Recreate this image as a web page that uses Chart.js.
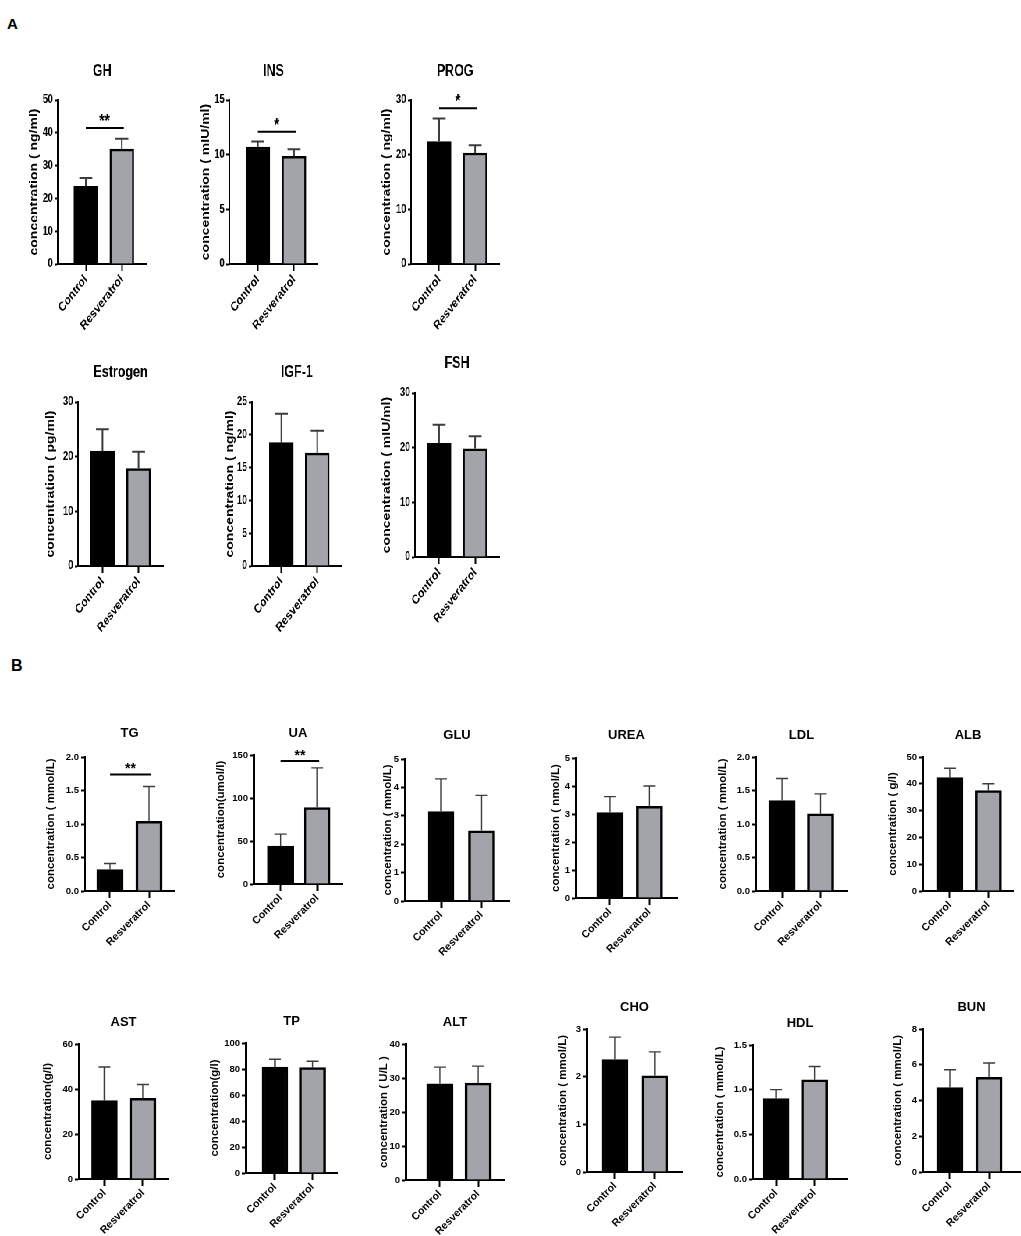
<!DOCTYPE html>
<html>
<head>
<meta charset="utf-8">
<script src="https://cdn.jsdelivr.net/npm/chart.js@4.4.1/dist/chart.umd.min.js"></script>
<style>
  html, body { margin: 0; padding: 0; background: #fff; overflow: hidden; }
  body { width: 1021px; height: 1236px; position: relative; font-family: "Liberation Sans", Arial, sans-serif; }
  .panel { position: absolute; font-weight: bold; color: #000; }
  #wrapA { position: absolute; left: 0; top: 0; width: 1400px; height: 640px; transform: scaleX(0.78); transform-origin: 0 0; }
  #wrapB { position: absolute; left: 0; top: 0; width: 1021px; height: 1236px; }
  canvas { position: absolute; }
</style>
</head>
<body>
<div class="panel" style="left:7px;top:16px;font-size:15px;line-height:15px">A</div>
<div class="panel" style="left:11px;top:658px;font-size:16px;line-height:16px">B</div>
<div id="wrapA"></div>
<div id="wrapB"></div>
<script>
const groups = ["Control", "Resveratrol"];
const titles = ["GH", "INS", "PROG", "Estrogen", "IGF-1", "FSH",
  "TG", "UA", "GLU", "UREA", "LDL", "ALB",
  "AST", "TP", "ALT", "CHO", "HDL", "BUN"];
const yTitles = ["concentration ( ng/ml)", "concentration ( mIU/ml)", "concentration ( ng/ml)",
  "concentration ( pg/ml)", "concentration ( ng/ml)", "concentration ( mIU/ml)",
  "concentration ( mmol/L)", "concentration(umol/l)", "concentration ( mmol/L)",
  "concentration ( nmol/L)", "concentration ( mmol/L)", "concentration ( g/l)",
  "concentration(g/l)", "concentration(g/l)", "concentration ( U/L )",
  "concentration ( mmol/L)", "concentration ( mmol/L)", "concentration ( mmol/L)"];
const controlMean = [23.7, 10.7, 22.4, 21.0, 18.8, 20.8, 0.32, 44, 3.15, 3.05, 1.35, 42.3, 34.8, 81.5, 28.3, 2.36, 0.90, 4.72];
const controlSD   = [2.5, 0.5, 4.2, 4.0, 4.4, 3.4, 0.09, 14, 1.15, 0.57, 0.33, 3.5, 15.0, 6.0, 4.9, 0.47, 0.10, 1.00];
const resMean     = [35.0, 9.85, 20.3, 17.8, 17.2, 19.8, 1.04, 89, 2.47, 3.27, 1.15, 37.5, 35.8, 81.0, 28.5, 2.02, 1.11, 5.30];
const resSD       = [3.2, 0.65, 1.4, 3.1, 3.4, 2.3, 0.52, 46, 1.25, 0.73, 0.30, 2.5, 6.2, 5.0, 5.0, 0.50, 0.15, 0.80];
const yMax  = [50, 15, 30, 30, 25, 30, 2, 150, 5, 5, 2, 50, 60, 100, 40, 3, 1.5, 8];
const yStep = [10, 5, 10, 10, 5, 10, 0.5, 50, 1, 1, 0.5, 10, 20, 20, 10, 1, 0.5, 2];
const sigMark  = ["**", "*", "*", "", "", "", "**", "**", "", "", "", "", "", "", "", "", "", ""];
const sigLevel = [41.5, 12.1, 28.5, 0, 0, 0, 1.74, 143, 0, 0, 0, 0, 0, 0, 0, 0, 0, 0];

// page px: axis x, axis end x, top y, zero y, x min, x max, y-title gap, title offset
const layout = [
  [58, 147, 100, 264, -0.78, 1.69, 23, 28],
  [229, 317, 100, 264, -0.79, 1.65, 23, 28],
  [411, 499, 100, 264, -0.78, 1.67, 24, 28],
  [78, 163, 402, 566, -0.68, 1.68, 27, 29],
  [252, 342, 402, 566, -0.82, 1.68, 22, 29],
  [415, 499, 393, 557, -0.67, 1.67, 28, 29],
  [85, 174, 757, 891, -0.64, 1.64, 34, 24],
  [254, 342, 755, 884, -0.73, 1.68, 33, 22],
  [405, 509, 759, 901, -0.89, 1.68, 17, 24],
  [576, 677, 758, 898, -0.86, 1.70, 20, 23],
  [756, 847, 757, 891, -0.68, 1.69, 33, 22],
  [923, 1013, 757, 891, -0.70, 1.64, 30, 22],
  [79, 168, 1044, 1179, -0.66, 1.65, 31, 22],
  [246, 337, 1043, 1173, -0.77, 1.65, 31, 22],
  [406, 504, 1044, 1180, -0.89, 1.68, 22, 22],
  [587, 682, 1029, 1172, -0.70, 1.68, 24, 22],
  [753, 847, 1045, 1179, -0.60, 1.84, 33, 22],
  [923, 1020, 1029, 1172, -0.69, 1.79, 25, 22]
];

const FAMILY = '"Liberation Sans", Arial, sans-serif';
const styleA = { sx: 0.78, tick: 12, yTitle: 14, title: 16, xLab: 13, star: 18, bar: 24, cap: 6.5, err: 2 };
const styleB = { sx: 1, tick: 9.5, yTitle: 11.5, title: 13, xLab: 10.5, star: 14, bar: 26, cap: 6, err: 1.4 };

Chart.defaults.font.family = FAMILY;
Chart.defaults.color = "#000";

// error bars, significance bracket and panel title
const extras = {
  id: "extras",
  afterDraw(chart, args, o) {
    const ctx = chart.ctx, ys = chart.scales.y, area = chart.chartArea;
    const bars = chart.getDatasetMeta(0).data;
    ctx.save();
    ctx.strokeStyle = "#3c3c3c";
    ctx.lineWidth = o.err;
    bars.forEach((bar, j) => {
      const top = ys.getPixelForValue(o.means[j] + o.sds[j]);
      ctx.beginPath();
      ctx.moveTo(bar.x, bar.y);
      ctx.lineTo(bar.x, top);
      ctx.moveTo(bar.x - o.cap, top);
      ctx.lineTo(bar.x + o.cap, top);
      ctx.stroke();
    });
    ctx.fillStyle = "#000";
    if (o.mark) {
      const yb = ys.getPixelForValue(o.level);
      ctx.strokeStyle = "#000";
      ctx.lineWidth = 2;
      ctx.beginPath();
      ctx.moveTo(bars[0].x, yb);
      ctx.lineTo(bars[1].x + 2 / o.sx, yb);
      ctx.stroke();
      ctx.font = "bold " + o.star + "px " + FAMILY;
      ctx.textAlign = "center";
      ctx.textBaseline = "alphabetic";
      ctx.fillText(o.mark, (bars[0].x + bars[1].x) / 2 + 1, yb - 1);
    }
    ctx.font = "bold " + o.titleSize + "px " + FAMILY;
    ctx.textAlign = "center";
    ctx.textBaseline = "middle";
    ctx.fillText(o.title, (area.left + area.right) / 2, area.top - o.titleOff);
    ctx.restore();
  }
};

function makeChart(i) {
  const st = i < 6 ? styleA : styleB;
  const host = document.getElementById(i < 6 ? "wrapA" : "wrapB");
  const [ax, ex, ty, by, xMin, xMax, gap, tOff] = layout[i];
  const YW = 50, PT = 50, PR = 6, XH = 80;
  const w = Math.round((ex - ax) / st.sx + YW + PR);
  const h = by - ty + PT + XH;
  const cv = document.createElement("canvas");
  cv.width = w;
  cv.height = h;
  cv.style.width = w + "px";
  cv.style.height = h + "px";
  cv.style.left = (ax / st.sx - YW) + "px";
  cv.style.top = (ty - PT) + "px";
  host.appendChild(cv);

  const means = [controlMean[i], resMean[i]];
  const sds = [controlSD[i], resSD[i]];
  const titlePad = YW - gap / st.sx - st.yTitle * 1.2 / 2;

  new Chart(cv, {
    type: "bar",
    data: {
      datasets: [{
        data: groups.map((g, j) => ({ x: j, y: means[j] })),
        backgroundColor: ["#000000", "#a3a3aa"],
        borderColor: "#000000",
        borderWidth: 2.5,
        barThickness: st.bar / st.sx
      }]
    },
    options: {
      responsive: false,
      animation: false,
      layout: { padding: { top: PT, right: PR, left: 0, bottom: 0 } },
      plugins: {
        legend: { display: false },
        tooltip: { enabled: false },
        extras: {
          means: means, sds: sds, sx: st.sx, cap: st.cap / st.sx, err: st.err,
          mark: sigMark[i], level: sigLevel[i], star: st.star,
          title: titles[i], titleSize: st.title, titleOff: tOff
        }
      },
      scales: {
        x: {
          type: "linear",
          offset: false,
          bounds: "data",
          min: xMin,
          max: xMax,
          afterBuildTicks: s => { s.ticks = groups.map((g, j) => ({ value: j })); },
          afterFit: s => { s.height = XH; },
          ticks: {
            autoSkip: false, maxRotation: 45, minRotation: 45, padding: 1,
            font: { size: st.xLab, weight: "bold" },
            callback: v => groups[v]
          },
          grid: { offset: false, drawOnChartArea: false, tickLength: 7, tickWidth: 2, tickColor: "#000" },
          border: { color: "#000", width: 2 }
        },
        y: {
          min: 0,
          max: yMax[i],
          afterFit: s => { s.width = YW; },
          ticks: {
            stepSize: yStep[i], padding: 2,
            font: { size: st.tick, weight: "bold" },
            callback: v => yStep[i] < 1 ? v.toFixed(1) : String(v)
          },
          grid: { drawOnChartArea: false, tickLength: 4, tickWidth: 2, tickColor: "#000" },
          border: { color: "#000", width: 2 },
          title: {
            display: true, text: yTitles[i], color: "#000",
            font: { size: st.yTitle, weight: "bold" },
            padding: { top: titlePad, bottom: 0 }
          }
        }
      }
    },
    plugins: [extras]
  });
}

titles.forEach((t, i) => makeChart(i));
</script>
</body>
</html>
